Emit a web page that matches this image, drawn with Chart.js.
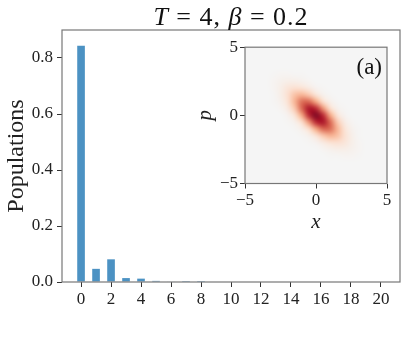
<!DOCTYPE html>
<html>
<head>
<meta charset="utf-8">
<script src="https://cdn.jsdelivr.net/npm/chart.js@4"></script>
<style>
  body { margin: 0; background: #fff; }
  #wrap { position: relative; width: 407px; height: 339px; }
  #main { position: absolute; left: 0; top: 0; }
  #inset { position: absolute; left: 190px; top: 35px; }
</style>
</head>
<body>
<div id="wrap">
  <canvas id="main" width="407" height="339"></canvas>
  <canvas id="inset" width="210" height="200"></canvas>
</div>
<script>
// photon number populations
let nLevels = [0, 1, 2, 3, 4, 5, 6, 7, 8, 9, 10, 11, 12, 13, 14, 15, 16, 17, 18, 19, 20];
let populations = [0.844, 0.047, 0.081, 0.014, 0.012, 0.004, 0.002, 0.0002, 0.0001, 0, 0,
                   0, 0, 0, 0, 0, 0, 0, 0, 0, 0];
let xTicks = [0, 2, 4, 6, 8, 10, 12, 14, 16, 18, 20];
let yTicks = [0, 0.2, 0.4, 0.6, 0.8];

// inset: Wigner function, percent of peak, rows p = 3.5 .. -3.5, cols x = -3.5 .. 3.5
let gridX = [-3.5, -3, -2.5, -2, -1.5, -1, -0.5, 0, 0.5, 1, 1.5, 2, 2.5, 3, 3.5];
let gridP = [3.5, 3, 2.5, 2, 1.5, 1, 0.5, 0, -0.5, -1, -1.5, -2, -2.5, -3, -3.5];
let wigner = [
  [0, 0, 0, 0, 0, 0, 0, 0, 0, 0, 0, 0, 0, 0, 0],
  [0, 1, 2, 2, 1, 1, 0, 0, 0, 0, 0, 0, 0, 0, 0],
  [0, 2, 4, 6, 6, 4, 2, 0, 0, 0, 0, 0, 0, 0, 0],
  [0, 2, 6, 13, 17, 15, 9, 3, 1, 0, 0, 0, 0, 0, 0],
  [0, 1, 6, 17, 32, 37, 29, 14, 4, 1, 0, 0, 0, 0, 0],
  [0, 1, 4, 15, 37, 60, 62, 42, 18, 5, 1, 0, 0, 0, 0],
  [0, 0, 2, 9, 29, 62, 88, 81, 48, 18, 4, 1, 0, 0, 0],
  [0, 0, 0, 3, 14, 42, 81, 100, 81, 42, 14, 3, 0, 0, 0],
  [0, 0, 0, 1, 4, 18, 48, 81, 88, 62, 29, 9, 2, 0, 0],
  [0, 0, 0, 0, 1, 5, 18, 42, 62, 60, 37, 15, 4, 1, 0],
  [0, 0, 0, 0, 0, 1, 4, 14, 29, 37, 32, 17, 6, 1, 0],
  [0, 0, 0, 0, 0, 0, 1, 3, 9, 15, 17, 13, 6, 2, 0],
  [0, 0, 0, 0, 0, 0, 0, 0, 2, 4, 6, 6, 4, 2, 0],
  [0, 0, 0, 0, 0, 0, 0, 0, 0, 1, 1, 2, 2, 1, 0],
  [0, 0, 0, 0, 0, 0, 0, 0, 0, 0, 0, 0, 0, 0, 0]
];
let insetTicks = [-5, 0, 5];

let serif = 'Liberation Serif';
let minus = v => (v < 0 ? '\u2212' + Math.abs(v) : String(v));

// RdBu_r, positive half
let cmap = [[245, 245, 245], [253, 219, 199], [244, 165, 130], [214, 96, 77], [178, 24, 43], [103, 0, 31]];
function colorAt(t) {
  t = Math.max(0, Math.min(1, t)) * (cmap.length - 1);
  let i = Math.min(Math.floor(t), cmap.length - 2), f = t - i;
  return cmap[i].map((c, k) => Math.round(c + (cmap[i + 1][k] - c) * f));
}

let img = document.createElement('canvas');
img.width = gridX.length;
img.height = gridP.length;
let ictx = img.getContext('2d');
let pix = ictx.createImageData(img.width, img.height);
wigner.forEach((row, r) => row.forEach((w, c) => {
  let col = colorAt(w / 100 * 0.93);
  let o = (r * img.width + c) * 4;
  pix.data[o] = col[0]; pix.data[o + 1] = col[1]; pix.data[o + 2] = col[2]; pix.data[o + 3] = 255;
}));
ictx.putImageData(pix, 0, 0);

let frame = {
  id: 'frame',
  afterDatasetsDraw(chart) {
    let a = chart.chartArea, ctx = chart.ctx;
    ctx.save();
    ctx.strokeStyle = '#777';
    ctx.lineWidth = 1.2;
    ctx.strokeRect(a.left, a.top, a.right - a.left, a.bottom - a.top);
    ctx.restore();
  }
};

let mathTitle = {
  id: 'mathTitle',
  afterDraw(chart) {
    let ctx = chart.ctx, a = chart.chartArea;
    let parts = [['T', 'italic'], [' = 4, ', 'normal'], ['\u03b2', 'italic'], [' = 0.2', 'normal']];
    ctx.save();
    ctx.fillStyle = '#111';
    ctx.textBaseline = 'alphabetic';
    ctx.letterSpacing = '1px';
    let total = 0;
    parts.forEach(p => { ctx.font = p[1] + ' 26px "' + serif + '"'; total += ctx.measureText(p[0]).width; });
    let x = (a.left + a.right) / 2 - total / 2;
    parts.forEach(p => {
      ctx.font = p[1] + ' 26px "' + serif + '"';
      ctx.fillText(p[0], x, 25);
      x += ctx.measureText(p[0]).width;
    });
    ctx.restore();
  }
};

new Chart(document.getElementById('main'), {
  type: 'bar',
  data: {
    datasets: [{
      data: nLevels.map((n, i) => ({ x: n, y: populations[i] })),
      backgroundColor: 'rgba(31, 119, 180, 0.8)',
      barPercentage: 0.51,
      categoryPercentage: 1
    }]
  },
  options: {
    responsive: false,
    animation: false,
    layout: { padding: { top: 30, right: 7, left: 0, bottom: 0 } },
    plugins: { legend: { display: false }, tooltip: { enabled: false } },
    scales: {
      x: {
        type: 'linear',
        offset: false,
        min: -1.27,
        max: 21.27,
        afterBuildTicks: s => { s.ticks = xTicks.map(v => ({ value: v })); },
        afterFit: s => { s.height = 57; },
        grid: { offset: false, drawOnChartArea: false, tickLength: 5, color: '#333' },
        border: { display: false },
        ticks: { font: { family: serif, size: 17 }, color: '#222', padding: 2, maxRotation: 0, autoSkip: false }
      },
      y: {
        min: 0,
        max: 0.9,
        afterBuildTicks: s => { s.ticks = yTicks.map(v => ({ value: v })); },
        afterFit: s => { s.width = 62; },
        grid: { drawOnChartArea: false, tickLength: 5, color: '#333' },
        border: { display: false },
        ticks: { font: { family: serif, size: 17 }, color: '#222', padding: 4, callback: v => v.toFixed(1) },
        title: { display: true, text: 'Populations', font: { family: serif, size: 24 }, color: '#222', padding: { top: 2, bottom: 0 } }
      }
    }
  },
  plugins: [frame, mathTitle]
});

let heatmap = {
  id: 'heatmap',
  beforeDatasetsDraw(chart) {
    let ctx = chart.ctx, a = chart.chartArea, sx = chart.scales.x, sy = chart.scales.y;
    let half = (gridX[1] - gridX[0]) / 2;
    let x0 = sx.getPixelForValue(gridX[0] - half), x1 = sx.getPixelForValue(gridX[gridX.length - 1] + half);
    let y0 = sy.getPixelForValue(gridP[0] + half), y1 = sy.getPixelForValue(gridP[gridP.length - 1] - half);
    ctx.save();
    ctx.beginPath();
    ctx.rect(a.left, a.top, a.right - a.left, a.bottom - a.top);
    ctx.clip();
    ctx.fillStyle = 'rgb(245, 245, 245)';
    ctx.fillRect(a.left, a.top, a.right - a.left, a.bottom - a.top);
    ctx.imageSmoothingEnabled = true;
    ctx.imageSmoothingQuality = 'high';
    ctx.drawImage(img, x0, y0, x1 - x0, y1 - y0);
    ctx.restore();
  }
};

let panelLabel = {
  id: 'panelLabel',
  afterDraw(chart) {
    let ctx = chart.ctx, a = chart.chartArea;
    ctx.save();
    ctx.font = '23px "' + serif + '"';
    ctx.fillStyle = '#111';
    ctx.textAlign = 'right';
    ctx.textBaseline = 'alphabetic';
    ctx.fillText('(a)', a.right - 5, a.top + 27);
    ctx.restore();
  }
};

new Chart(document.getElementById('inset'), {
  type: 'scatter',
  data: { datasets: [{ data: [] }] },
  options: {
    responsive: false,
    animation: false,
    layout: { padding: { top: 7.5, right: 13, left: 0, bottom: 0 } },
    plugins: { legend: { display: false }, tooltip: { enabled: false } },
    scales: {
      x: {
        type: 'linear',
        min: -5,
        max: 5,
        afterBuildTicks: s => { s.ticks = insetTicks.map(v => ({ value: v })); },
        afterFit: s => { s.height = 51.5; },
        grid: { drawOnChartArea: false, tickLength: 5, color: '#333' },
        border: { display: false },
        ticks: { font: { family: serif, size: 17 }, color: '#222', padding: 2, maxRotation: 0, callback: minus },
        title: { display: true, text: 'x', font: { family: serif, size: 21, style: 'italic' }, color: '#222', padding: { top: 0, bottom: 0 } }
      },
      y: {
        type: 'linear',
        min: -5,
        max: 5,
        afterBuildTicks: s => { s.ticks = insetTicks.map(v => ({ value: v })); },
        afterFit: s => { s.width = 55; },
        grid: { drawOnChartArea: false, tickLength: 5, color: '#333' },
        border: { display: false },
        ticks: { font: { family: serif, size: 17 }, color: '#222', padding: 2, callback: minus },
        title: { display: true, text: 'p', font: { family: serif, size: 21, style: 'italic' }, color: '#222', padding: { top: 3, bottom: 0 } }
      }
    }
  },
  plugins: [heatmap, frame, panelLabel]
});
</script>
</body>
</html>
